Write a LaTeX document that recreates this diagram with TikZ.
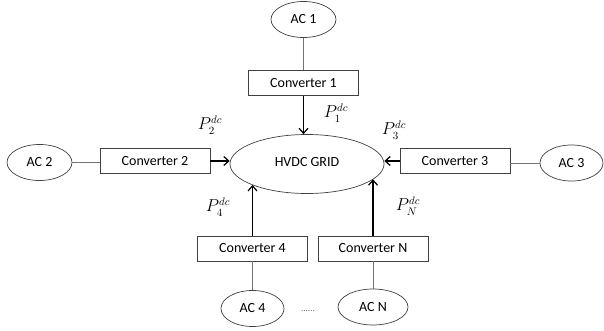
\documentclass[tikz,border=0pt]{standalone}
\usepackage{fontspec}
\setmainfont{Carlito}
\usetikzlibrary{shapes.geometric,arrows.meta}
\tikzset{
  acnode/.style={ellipse,draw=black!75,line width=0.7pt,minimum width=65pt,minimum height=36pt,inner sep=0pt,font=\fontsize{14}{16}\selectfont},
  gridnode/.style={ellipse,draw=black!75,line width=0.7pt,minimum width=154pt,minimum height=59pt,inner sep=0pt,font=\fontsize{14}{16}\selectfont},
  convbox/.style={rectangle,draw=black!75,line width=0.7pt,minimum width=110pt,minimum height=25pt,inner sep=0pt,font=\fontsize{14}{16}\selectfont},
  acline/.style={draw=black!55,line width=0.7pt},
  arr/.style={draw=black,line width=1.2pt,-{Straight Barb[length=5pt,width=9pt,line width=1.2pt]}},
  plabel/.style={font=\fontsize{16}{18}\selectfont,inner sep=0pt}
}
\begin{document}
\begin{tikzpicture}[x=1pt,y=-1pt]
\useasboundingbox (0,0) rectangle (604,331);
\node[gridnode] (grid) at (307,164) {\raisebox{5pt}{HVDC GRID}};
\node[acnode] (ac1) at (303.5,19.5) {AC 1};
\node[convbox] (c1) at (303.5,83) {Converter 1};
\node[acnode] (ac2) at (39.5,162.5) {AC 2};
\node[convbox] (c2) at (155,161) {Converter 2};
\node[acnode,minimum width=63pt] (ac3) at (571.5,163) {AC 3};
\node[convbox] (c3) at (455,161) {Converter 3};
\node[convbox] (c4) at (252.5,248.5) {Converter 4};
\node[convbox] (cn) at (373,248.5) {Converter N};
\node[acnode,minimum width=63pt] (ac4) at (252.5,308.5) {AC 4};
\node[acnode,minimum width=70pt] (acn) at (373,307) {AC N};
\node[font=\fontsize{9}{10}\selectfont,text=black!60] (dots) at (308,311) {......};
\node[plabel] (p1) at (336,113) {$P_1^{dc}$};
\node[plabel] (p2) at (210,125) {$P_2^{dc}$};
\node[plabel] (p3) at (394,130) {$P_3^{dc}$};
\node[plabel] (p4) at (218,207) {$P_4^{dc}$};
\node[plabel] (pn) at (408,206) {$P_N^{dc}$};
\draw[acline] (ac1.south) -- (c1.north);
\draw[acline] (ac2.east) -- (ac2.east -| c2.west);
\draw[acline] (ac3.west) -- (ac3.west -| c3.east);
\draw[acline] (ac4.north) -- (c4.south);
\draw[acline] (acn.north) -- (cn.south);
\draw[arr] (c1.south) -- (c1.south |- grid.north);
\draw[arr] (c2.east) -- (c2.east -| grid.west);
\draw[arr] (c3.west) -- (c3.west -| grid.east);
\draw[arr] (c4.north) -- (c4.north |- grid.201);
\draw[arr] (cn.north) -- (cn.north |- grid.347);
\end{tikzpicture}
\end{document}
